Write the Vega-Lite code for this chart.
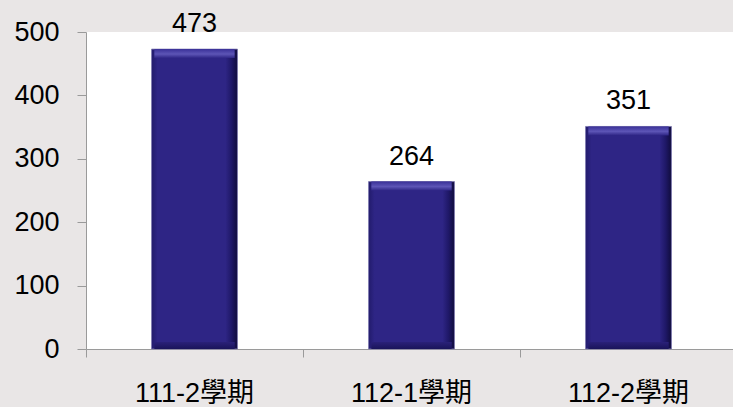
{
  "$schema": "https://vega.github.io/schema/vega-lite/v6.json",
  "autosize": "none",
  "width": 647,
  "height": 317,
  "padding": {"left": 86, "top": 32, "right": 0, "bottom": 58},
  "background": "#e9e6e6",
  "config": {
    "view": {"fill": "white", "stroke": null},
    "font": "Liberation Sans",
    "axis": {"labelFont": "Liberation Sans, Noto Sans CJK TC", "labelFontSize": 27, "labelColor": "#000000", "domainColor": "#9a9a9a", "tickColor": "#9a9a9a", "grid": false, "title": null}
  },
  "data": {"values": [
    {"term": "111-2學期", "count": 473},
    {"term": "112-1學期", "count": 264},
    {"term": "112-2學期", "count": 351}
  ]},
  "encoding": {
    "x": {"field": "term", "type": "nominal", "sort": null,
      "scale": {"range": [0, 651], "paddingInner": 0, "paddingOuter": 0},
      "axis": {"labelAngle": 0, "bandPosition": 0, "tickSize": 8, "labelPadding": 23, "labelFontSize": 27}},
    "y": {"field": "count", "type": "quantitative",
      "scale": {"domain": [0, 500], "nice": false},
      "axis": {"values": [0, 100, 200, 300, 400, 500], "tickSize": 9, "labelPadding": 18, "labelFontSize": 27}}
  },
  "layer": [
    {
      "mark": {"type": "bar", "width": {"band": 0.396}, "stroke": "#7d79b0", "strokeWidth": 0.8,
        "fill": {"gradient": "linear", "x1": 0, "y1": 0, "x2": 1, "y2": 0,
          "stops": [
            {"offset": 0, "color": "#221b6c"},
            {"offset": 0.07, "color": "#2e2585"},
            {"offset": 0.86, "color": "#2e2585"},
            {"offset": 0.93, "color": "#1f1868"},
            {"offset": 1, "color": "#100c3c"}
          ]}}
    },
    {
      "mark": {"type": "bar", "width": {"band": 0.37}, "y2Offset": 9,
        "fill": {"gradient": "linear", "x1": 0, "y1": 0, "x2": 0, "y2": 1,
          "stops": [
            {"offset": 0, "color": "#3a3198"},
            {"offset": 0.55, "color": "#5d55b6"},
            {"offset": 1, "color": "#2e2585"}
          ]}},
      "encoding": {"y2": {"field": "count"}}
    },
    {
      "mark": {"type": "bar", "width": {"band": 0.37}, "yOffset": -7,
        "fill": {"gradient": "linear", "x1": 0, "y1": 0, "x2": 0, "y2": 1,
          "stops": [
            {"offset": 0, "color": "#2a2179"},
            {"offset": 1, "color": "#1a145a"}
          ]}},
      "encoding": {"y": {"datum": 0}, "y2": {"datum": 0}}
    },
    {
      "mark": {"type": "text", "baseline": "alphabetic", "dy": -17, "fontSize": 27, "font": "Liberation Sans", "color": "#000000"},
      "encoding": {"text": {"field": "count", "type": "quantitative"}}
    }
  ]
}
